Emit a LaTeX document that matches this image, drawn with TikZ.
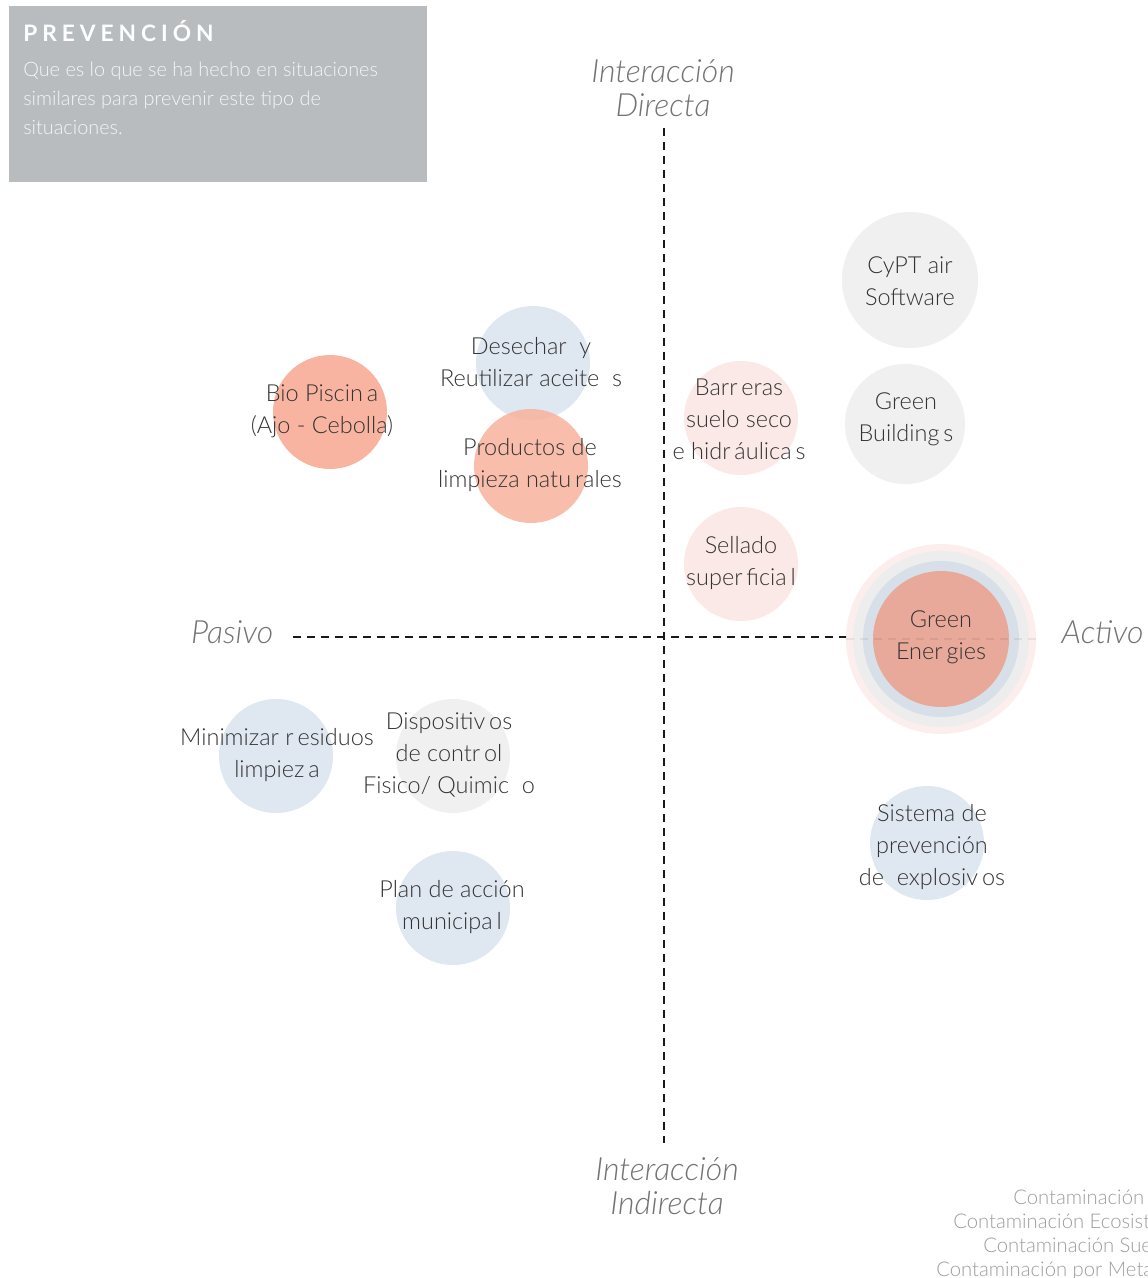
\documentclass[tikz,border=0pt]{standalone}
\usepackage{fontspec}
\setmainfont{Lato Light}[ItalicFont=Lato Light Italic, BoldFont=Lato Bold]
\newfontfamily\titlefont{Lato Bold}[LetterSpace=22]
\definecolor{salmon}{HTML}{F8B4A0}
\definecolor{paleblue}{HTML}{DFE7F0}
\definecolor{palegray}{HTML}{EFF0EF}
\definecolor{palepink}{HTML}{FBE9E7}
\definecolor{boxgray}{HTML}{B9BCBF}
\definecolor{ringblue}{HTML}{D7E0E8}
\definecolor{coreorange}{HTML}{E8A89A}
\begin{document}
\begin{tikzpicture}[x=0.75pt,y=-0.75pt,
  blob/.style={circle,inner sep=0pt,minimum size=#1*1.5pt},
  lbl/.style={align=center,text=black!80,font=\fontsize{17.6}{24}\selectfont},
  axislbl/.style={align=center,text=black!55,font=\fontsize{24}{25.5}\selectfont\itshape},
  axisline/.style={line width=1pt,dash pattern=on 6pt off 4.5pt,black!90}]
\clip (0,0) rectangle (1147,1278);
\fill[white] (0,0) rectangle (1147,1278);

% header box
\fill[boxgray] (9,6) rectangle (427,182);
\node[anchor=base west,inner sep=0pt,text=white,font=\titlefont\fontsize{17}{20}\selectfont] (title) at (23,41) {PREVENCIÓN};
\node[anchor=north west,inner sep=0pt,align=left,text=white!85!boxgray,font=\fontsize{14.9}{21.75}\selectfont] (subtitle) at (23,62)
  {Que es lo que se ha hecho en situaciones\\similares para prevenir este tipo de\\situaciones.};

% axes
\coordinate (top) at (664,128);
\coordinate (bottom) at (664,1143);
\coordinate (left) at (293,637);
\coordinate (right) at (1035,637);
\draw[axisline] (top) -- (bottom);
\draw[axisline] (left) -- (right);

\node[axislbl] (directa) at (663,88) {Interacción\\Directa};
\node[axislbl] (indirecta) at (667,1186) {Interacción\\Indirecta};
\node[axislbl,anchor=east] (pasivo) at (278,632) {Pasivo};
\node[axislbl,anchor=west] (activo) at (1057,632) {Activo};

% circles
\node[blob=68,fill=palegray] (cypt) at (910,280) {};
\node[blob=60,fill=palegray] (gbuild) at (905,424) {};
\node[blob=57,fill=paleblue] (desechar) at (533,363) {};
\node[blob=57,fill=salmon] (bio) at (330,412) {};
\node[blob=57,fill=salmon,fill opacity=0.88] (productos) at (531,466) {};
\node[blob=57,fill=palepink] (barreras) at (741,418) {};
\node[blob=57,fill=palepink] (sellado) at (741,564) {};
\node[blob=95,fill=palepink!80,fill opacity=0.9] (gering) at (941,639) {};
\node[blob=88,fill=black!7] (gering2) at (941,639) {};
\node[blob=78,fill=ringblue] (gering3) at (941,639) {};
\node[blob=68,fill=coreorange] (genergy) at (941,639) {};
\node[blob=57,fill=paleblue] (minimizar) at (276,756) {};
\node[blob=57,fill=palegray] (dispositivos) at (453,756) {};
\node[blob=57,fill=paleblue] (plan) at (453,908) {};
\node[blob=57,fill=paleblue] (sistema) at (927,843) {};

% faint trace of the horizontal axis across the rings
\draw[axisline,draw opacity=0.07] (gering.west) -- (gering.east);

% circle labels
\node[lbl] at (910,281) {CyPT air\\Software};
\node[lbl] at (906,419) {Green\\Building\,s};
\node[lbl] at (531,362) {Desechar\ \ y\\Reutilizar aceite\ \ s};
\node[lbl] at (322,411) {Bio Piscin\,a\\(Ajo - Cebolla)};
\node[lbl] at (530,465) {Productos de\\limpieza natu\,rales};
\node[lbl] at (739,419) {Barr\,eras\\suelo seco\\e hidr\,áulica\,s};
\node[lbl] at (741,563) {Sellado\\super\,ficia\,l};
\node[lbl] at (941,637) {Green\\Ener\,gies};
\node[lbl] at (277,755) {Minimizar r\,esiduos\\limpiez\,a};
\node[lbl] at (449,755) {Dispositiv\,os\\de contr\,ol\\Fisico/ Quimic\ \ o};
\node[lbl] at (452,907) {Plan de acción\\municipa\,l};
\node[lbl] at (932,847) {Sistema de\\prevención\\de\ \ explosiv\,os};

% legend in the lower right corner, running off the page edge
\begin{scope}[every node/.style={anchor=base west,inner sep=0pt,text=black!38,font=\fontsize{15.2}{18}\selectfont}]
\node (leg1) at (1013,1204) {Contaminación Aire};
\node (leg2) at (953,1228) {Contaminación Ecosistemas};
\node (leg3) at (983,1252) {Contaminación Suelo};
\node (leg4) at (936,1276) {Contaminación por Metales};
\end{scope}
\end{tikzpicture}
\end{document}
